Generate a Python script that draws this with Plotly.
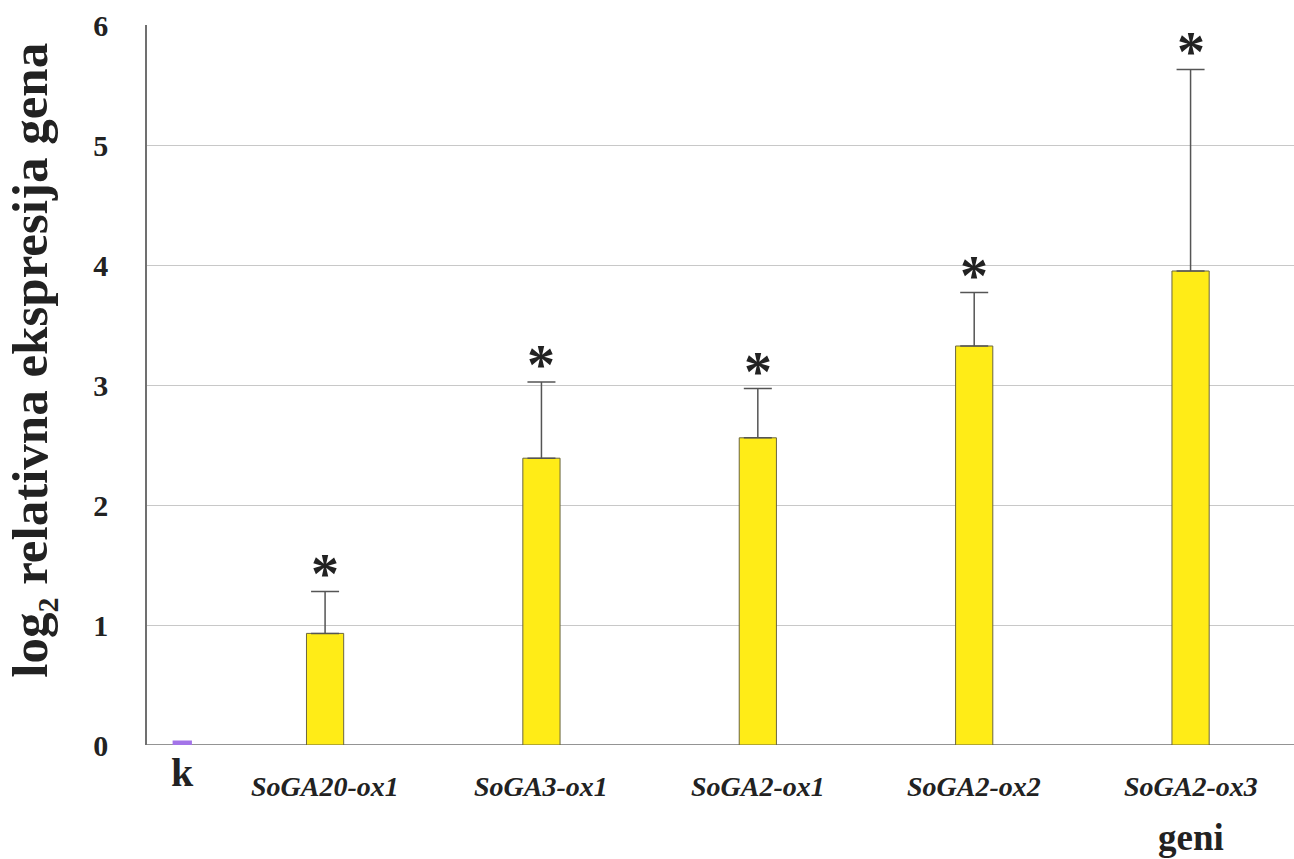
import plotly.graph_objects as go

categories = ["k", "SoGA20-ox1", "SoGA3-ox1", "SoGA2-ox1", "SoGA2-ox2", "SoGA2-ox3"]
positions = [-0.66, 0, 1, 2, 3, 4]
values = [0.03, 0.93, 2.39, 2.56, 3.325, 3.95]
errors_up = [0.0, 0.35, 0.635, 0.41, 0.445, 1.68]
significant = [False, True, True, True, True, True]
y_ticks = [0, 1, 2, 3, 4, 5, 6]

FONT = "Liberation Serif"
INK = "#222222"

fig = go.Figure()
fig.add_trace(go.Bar(
    x=positions[:1], y=values[:1], width=0.08,
    marker=dict(color="#A374E8", line=dict(color="#A374E8", width=2)),
    showlegend=False, hoverinfo="skip",
))
fig.add_trace(go.Bar(
    x=positions[1:], y=values[1:], width=0.172,
    marker=dict(color="#FFEC17", line=dict(color="#6b6640", width=1)),
    error_y=dict(type="data", symmetric=False, array=errors_up[1:],
                 arrayminus=[0] * 5, color="#555555", thickness=1.5, width=14),
    showlegend=False, hoverinfo="skip",
))

annotations = []
for p, v, e, s in zip(positions, values, errors_up, significant):
    if s:
        annotations.append(dict(x=p, y=v + e, xref="x", yref="y", text="<b>*</b>",
                                showarrow=False, yshift=17, yanchor="middle",
                                font=dict(family=FONT, size=56, color=INK)))
for p, c in zip(positions, categories):
    if c == "k":
        annotations.append(dict(x=p, y=-0.0375, xref="x", yref="paper", text="<b>k</b>",
                                showarrow=False, yanchor="middle", xanchor="center",
                                font=dict(family=FONT, size=40, color=INK)))
    else:
        annotations.append(dict(x=p, y=-0.058, xref="x", yref="paper", text="<b><i>" + c + "</i></b>",
                                showarrow=False, yanchor="middle", xanchor="center",
                                font=dict(family=FONT, size=28, color=INK)))
annotations.append(dict(x=positions[-1], y=-0.129, xref="x", yref="paper", text="<b>geni</b>",
                        showarrow=False, yanchor="middle", xanchor="center",
                        font=dict(family=FONT, size=37, color=INK)))
annotations.append(dict(x=-0.0994, y=0.535, xref="paper", yref="paper", textangle=-90,
                        xanchor="center", yanchor="middle",
                        text="<b>log<sub><span style='font-size:30px'>2</span></sub> relativna ekspresija gena</b>",
                        showarrow=False, font=dict(family=FONT, size=51, color=INK)))

fig.update_layout(
    width=1294, height=859,
    margin=dict(l=147, r=0, t=25, b=114),
    plot_bgcolor="white", paper_bgcolor="white",
    annotations=annotations,
    xaxis=dict(range=[-0.823, 4.478], showticklabels=False, showgrid=False, zeroline=False,
               showline=False, ticks=""),
    yaxis=dict(range=[0, 6], tickvals=y_ticks, showgrid=True, gridcolor="#c8c8c8", gridwidth=1,
               zeroline=False,
               showline=True, linecolor="#707070", linewidth=1.5, ticks="",
               ticklabelstandoff=31,
               tickfont=dict(family=FONT, size=30, color=INK, weight="bold")),
    shapes=[dict(type="line", xref="paper", yref="y", x0=0, x1=1, y0=0, y1=0,
                 line=dict(color="#707070", width=1.5), layer="below")],
)
fig.write_html("out.html", config={"displayModeBar": False},
               post_script=("document.documentElement.style.overflow='hidden';"
                            "document.body.style.overflow='hidden';"
                            "document.body.style.margin='0';"))
